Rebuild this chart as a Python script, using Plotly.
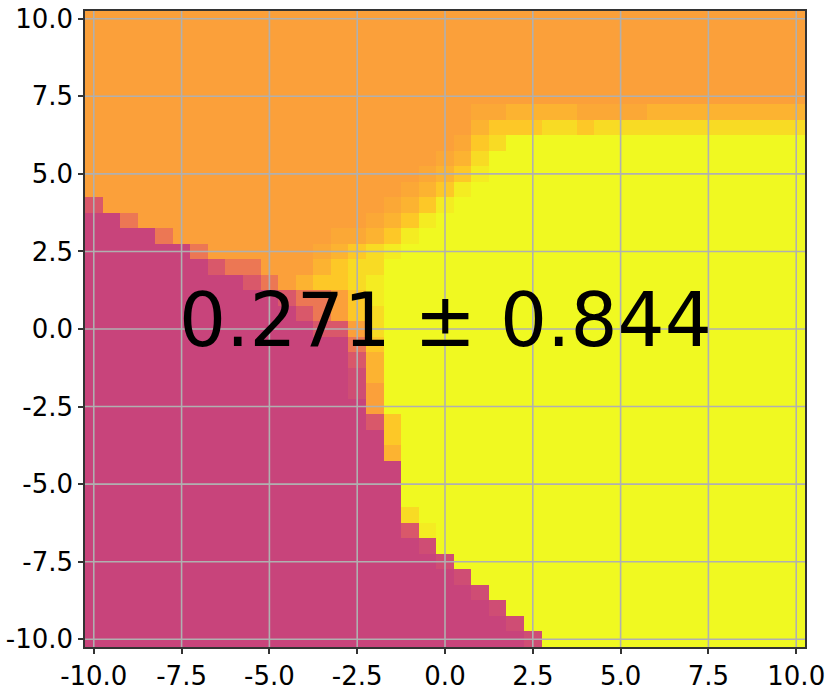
import re

import plotly.graph_objects as go

# 41 x 41 cells, 0.5 apart, centred on -10 ... 10
x_start, x_step = -10.0, 0.5
y_start, y_step = -10.0, 0.5

# shade code -> position on the plasma scale
shade_levels = {
    "M": 0.49, "m": 0.52, "n": 0.56, "r": 0.66, "O": 0.78,
    "p": 0.80, "o": 0.83, "y": 0.885, "l": 0.93, "k": 0.97, "Y": 1.0,
}

# run-length rows, top row (y = 10) first
grid_rows = [
    "41O",
    "41O",
    "41O",
    "41O",
    "41O",
    "41O",
    "22O 2p 4o 4p 9o",
    "22O 1o 3y 2l 1y 12l",
    "21O 1p 1y 1l 17Y",
    "20O 1p 1o 1l 18Y",
    "19O 1p 1o 1y 1k 18Y",
    "18O 1p 1o 1y 1k 19Y",
    "1n 16O 1p 1o 1y 1k 20Y",
    "2M 1r 13O 1p 1o 1y 1k 21Y",
    "4M 1r 9O 2p 1o 1y 1k 22Y",
    "6M 1r 6O 1p 1o 1y 1l 1k 23Y",
    "7M 1n 2r 3O 1o 1y 2l 24Y",
    "9M 1n 1r 1O 1o 2y 1l 1k 24Y",
    "11M 1n 2r 1O 1y 1k 24Y",
    "12M 1n 1r 1O 1y 1l 24Y",
    "13M 2n 1O 1l 24Y",
    "15M 1r 1y 24Y",
    "15M 1n 1o 24Y",
    "15M 1m 1o 24Y",
    "15M 1m 1O 24Y",
    "16M 1O 24Y",
    "16M 1n 1y 23Y",
    "17M 1y 23Y",
    "17M 1o 23Y",
    "18M 23Y",
    "18M 23Y",
    "18M 23Y",
    "18M 1l 22Y",
    "18M 1n 1k 21Y",
    "19M 1m 21Y",
    "20M 1m 20Y",
    "21M 1m 19Y",
    "22M 1m 18Y",
    "23M 1m 17Y",
    "24M 1m 16Y",
    "25M 1m 15Y",
]

tick_values = [-10.0, -7.5, -5.0, -2.5, 0.0, 2.5, 5.0, 7.5, 10.0]
tick_labels = ["-10.0", "-7.5", "-5.0", "-2.5", "0.0", "2.5", "5.0", "7.5", "10.0"]

score_text = "0.271 \u00b1 0.844"


def decode_row(row):
    cells = []
    for count, code in re.findall(r"(\d+)([A-Za-z])", row):
        cells.extend([shade_levels[code]] * int(count))
    return cells


z = [decode_row(row) for row in reversed(grid_rows)]

fig = go.Figure(
    go.Heatmap(
        z=z,
        x0=x_start,
        dx=x_step,
        y0=y_start,
        dy=y_step,
        colorscale="Plasma",
        zmin=0,
        zmax=1,
        showscale=False,
        hoverinfo="skip",
    )
)

# grid drawn over the cells, as in the original
for v in tick_values:
    fig.add_shape(type="line", xref="x", yref="paper", x0=v, x1=v, y0=0, y1=1,
                  line=dict(color="#b0b0b0", width=1.6), layer="above")
    fig.add_shape(type="line", xref="paper", yref="y", x0=0, x1=1, y0=v, y1=v,
                  line=dict(color="#b0b0b0", width=1.6), layer="above")

fig.add_annotation(x=0, y=0, text=score_text, showarrow=False,
                   xanchor="center", yanchor="middle", yshift=9,
                   font=dict(size=74, color="black"))

axis_style = dict(
    range=[-10.25, 10.25],
    tickvals=tick_values,
    ticktext=tick_labels,
    ticks="outside",
    ticklen=5,
    tickwidth=1.5,
    tickcolor="#333333",
    showline=True,
    mirror=True,
    linecolor="#333333",
    linewidth=1.5,
    showgrid=False,
    zeroline=False,
    automargin=False,
)
fig.update_xaxes(**axis_style)
fig.update_yaxes(**axis_style)
fig.update_layout(
    width=830,
    height=690,
    margin=dict(l=85, r=25, t=11, b=43),
    plot_bgcolor="white",
    paper_bgcolor="white",
    showlegend=False,
    font=dict(family="DejaVu Sans", size=26, color="black"),
)

# drop the page's default body margin so the figure sits at the window corner
fig.write_html(
    "out.html",
    config={"displayModeBar": False},
    post_script="document.body.style.margin = '0';",
)
